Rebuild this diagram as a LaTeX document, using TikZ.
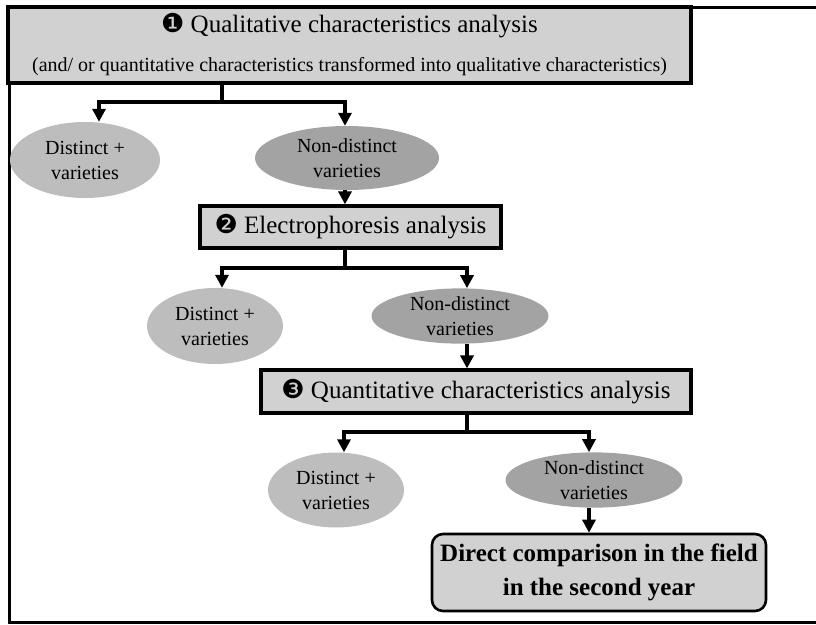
\documentclass[tikz,border=0pt]{standalone}
\usepackage{fontspec}
\setmainfont{Liberation Serif}
\newfontfamily\dej{DejaVu Sans}
\usetikzlibrary{shapes.geometric,arrows.meta}
\definecolor{boxgray}{HTML}{D1D1D1}
\definecolor{lightell}{HTML}{BDBDBD}
\definecolor{darkell}{HTML}{A3A3A3}
\newcommand{\numdot}[1]{{\dej\fontsize{26}{30}\selectfont #1}}
\tikzset{
  stagebox/.style={draw=black,line width=3.2pt,fill=boxgray,rectangle,inner sep=0pt,align=center,font=\fontsize{25}{30}\selectfont},
  finalbox/.style={draw=black,line width=2.6pt,fill=boxgray,rectangle,rounded corners=11pt,inner sep=0pt,align=center,font=\fontsize{25}{34}\selectfont\bfseries},
  distell/.style={ellipse,fill=lightell,draw=none,inner sep=0pt,align=center,font=\fontsize{20}{25}\selectfont},
  ndell/.style={ellipse,fill=darkell,draw=none,inner sep=0pt,align=center,font=\fontsize{20}{25}\selectfont},
  conn/.style={line width=3.2pt,draw=black},
  arr/.style={conn,-{Triangle[width=13pt,length=13pt]}},
  frameline/.style={line width=3pt,draw=black}
}
\begin{document}
\begin{tikzpicture}[x=1pt,y=-1pt]
\useasboundingbox (0,0) rectangle (816,624);
\draw[frameline] (816,7) -- (9,7) -- (9,622) -- (816,622);
% stage 1
\node[stagebox,minimum width=683pt,minimum height=76pt] (b1) at (349.5,45)
  {\numdot{❶} Qualitative characteristics analysis\\[9pt]
   {\fontsize{20}{24}\selectfont (and/ or quantitative characteristics transformed into qualitative characteristics)}};
\node[distell,minimum width=150pt,minimum height=76pt] (d1) at (85,160) {Distinct +\\varieties};
\node[ndell,minimum width=184pt,minimum height=64pt] (n1) at (347,158) {Non-distinct\\varieties};
\coordinate (j1) at (222,102);
\draw[conn] (b1.south -| j1) -- (j1);
\draw[arr] (j1) -| (d1.north -| 99,0);
\draw[arr] (j1) -| (n1.north -| 345,0);
% stage 2
\node[stagebox,minimum width=301pt,minimum height=42pt] (b2) at (350.5,227)
  {\numdot{❷} Electrophoresis analysis};
\draw[arr] (n1.south -| 345,0) -- (b2.north -| 345,0);
\node[distell,minimum width=136pt,minimum height=76pt] (d2) at (215,326) {Distinct +\\varieties};
\node[ndell,minimum width=177pt,minimum height=54pt] (n2) at (460,316) {Non-distinct\\varieties};
\coordinate (j2) at (345,268);
\draw[conn] (b2.south -| j2) -- (j2);
\draw[arr] (j2) -| (d2.north -| 222,0);
\draw[arr] (j2) -| (n2.north -| 467,0);
% stage 3
\node[stagebox,minimum width=430pt,minimum height=43pt] (b3) at (476,391.5)
  {\numdot{❸} Quantitative characteristics analysis};
\draw[arr] (n2.south -| 467,0) -- (b3.north -| 467,0);
\node[distell,minimum width=136pt,minimum height=75pt] (d3) at (336,490) {Distinct +\\varieties};
\node[ndell,minimum width=177pt,minimum height=54pt] (n3) at (594,480) {Non-distinct\\varieties};
\coordinate (j3) at (467,432);
\draw[conn] (b3.south -| j3) -- (j3);
\draw[arr] (j3) -| (d3.north -| 344,0);
\draw[arr] (j3) -| (n3.north -| 589,0);
% final
\node[finalbox,minimum width=334pt,minimum height=77pt] (f) at (599,572.5)
  {Direct comparison in the field\\in the second year};
\draw[arr] (n3.south -| 589,0) -- (f.north -| 589,0);
\end{tikzpicture}
\end{document}
